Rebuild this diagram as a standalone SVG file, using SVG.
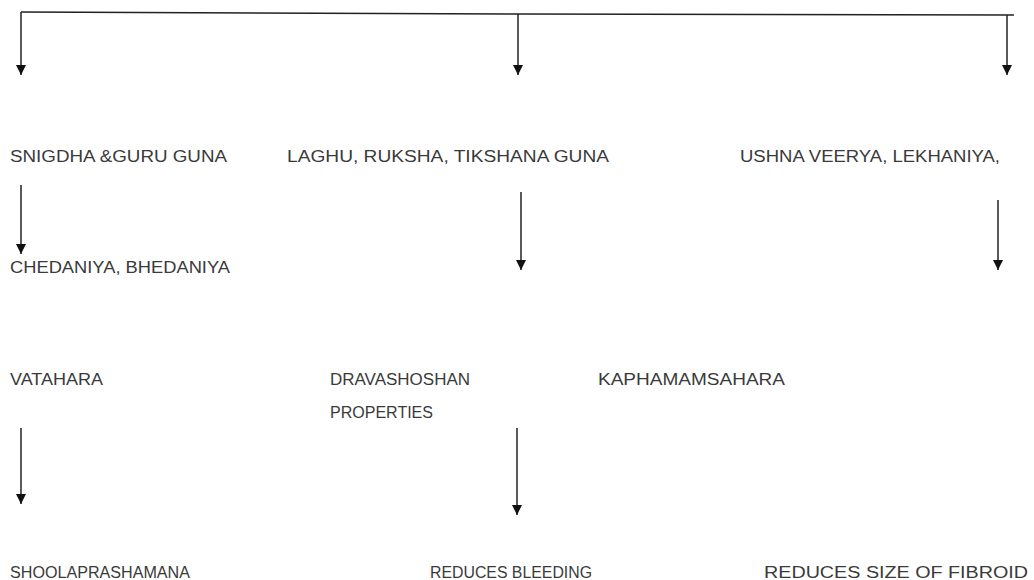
<svg xmlns="http://www.w3.org/2000/svg" width="1034" height="580" viewBox="0 0 1034 580">
<style>
.t{font-family:"Liberation Sans","Open Sans",Arial,sans-serif;font-size:16px;fill:#3a3a3a}
.c{stroke:#222;stroke-width:1.5;fill:none}
</style>
<defs>
<marker id="ah" viewBox="0 0 10 10" refX="10" refY="5" markerWidth="11" markerHeight="10" markerUnits="userSpaceOnUse" orient="auto">
<path d="M0,0 L10,5 L0,10 Z" fill="#111"/>
</marker>
</defs>
<rect width="1034" height="580" fill="#fff"/>
<g id="connectors">
<polyline class="c" points="21,12 518,14 1014,15"/>
<line class="c" x1="21" y1="12" x2="21" y2="75" marker-end="url(#ah)"/>
<line class="c" x1="518" y1="14" x2="518" y2="75" marker-end="url(#ah)"/>
<line class="c" x1="1007" y1="15" x2="1007" y2="75" marker-end="url(#ah)"/>
<line class="c" x1="21" y1="185" x2="21" y2="254" marker-end="url(#ah)"/>
<line class="c" x1="521" y1="192" x2="521" y2="270" marker-end="url(#ah)"/>
<line class="c" x1="998" y1="200" x2="998" y2="270" marker-end="url(#ah)"/>
<line class="c" x1="21" y1="428" x2="21" y2="504" marker-end="url(#ah)"/>
<line class="c" x1="517" y1="428" x2="517" y2="515" marker-end="url(#ah)"/>
</g>
<g id="n1"><text class="t" x="10" y="162" textLength="217" lengthAdjust="spacingAndGlyphs">SNIGDHA &amp;GURU GUNA</text></g>
<g id="n2"><text class="t" x="287" y="162" textLength="322" lengthAdjust="spacingAndGlyphs">LAGHU, RUKSHA, TIKSHANA GUNA</text></g>
<g id="n3"><text class="t" x="740" y="162" textLength="260" lengthAdjust="spacingAndGlyphs">USHNA  VEERYA,  LEKHANIYA,</text></g>
<g id="n4"><text class="t" x="10" y="273" textLength="220" lengthAdjust="spacingAndGlyphs">CHEDANIYA, BHEDANIYA</text></g>
<g id="n5"><text class="t" x="10" y="385" textLength="93" lengthAdjust="spacingAndGlyphs">VATAHARA</text></g>
<g id="n6"><text class="t" x="330" y="385" textLength="140" lengthAdjust="spacingAndGlyphs">DRAVASHOSHAN</text><text class="t" x="330" y="418" textLength="103" lengthAdjust="spacingAndGlyphs">PROPERTIES</text></g>
<g id="n7"><text class="t" x="598" y="385" textLength="187" lengthAdjust="spacingAndGlyphs">KAPHAMAMSAHARA</text></g>
<g id="n8"><text class="t" x="10" y="578" textLength="180" lengthAdjust="spacingAndGlyphs">SHOOLAPRASHAMANA</text></g>
<g id="n9"><text class="t" x="430" y="578" textLength="162" lengthAdjust="spacingAndGlyphs">REDUCES  BLEEDING</text></g>
<g id="n10"><text class="t" x="764" y="578" textLength="264" lengthAdjust="spacingAndGlyphs">REDUCES  SIZE OF FIBROID</text></g>
</svg>
